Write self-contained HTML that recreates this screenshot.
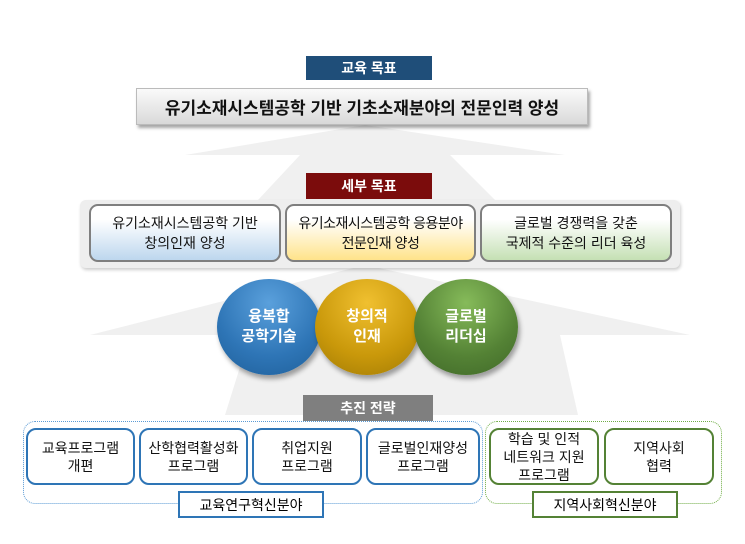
<!DOCTYPE html>
<html><head><meta charset="utf-8"><style>
body{margin:0;width:745px;height:544px;background:#fff;position:relative;overflow:hidden;font-family:"Liberation Sans","Noto Sans CJK KR",sans-serif;}
.a{position:absolute;box-sizing:border-box;display:flex;align-items:center;justify-content:center;text-align:center;}
.lab{color:#fff;font-weight:bold;font-size:14px;}
.g{border:2px solid #7f7f7f;border-radius:9px;font-size:14px;line-height:20px;color:#111;}
.bb{border:2px solid #2e75b6;border-radius:10px;background:#fff;font-size:14px;line-height:18px;color:#111;}
.gb{border:2px solid #548235;border-radius:10px;background:#fff;font-size:14px;line-height:18px;color:#111;}
.c{border-radius:50%;color:#fff;font-weight:bold;font-size:15px;line-height:20px;box-shadow:2px 4px 5px rgba(0,0,0,.35);}
</style></head><body>
<svg class="a" style="left:0;top:0;width:745px;height:544px" width="745" height="544">
<polygon fill="#f0f0f0" points="365,125 565,155 450,155 495,200 258,200 300,155 185,155"/>
<polygon fill="#f0f0f0" points="365,265 690,335 560,335 578,415 225,415 250,335 90,335"/>
</svg>
<div class="a lab" style="left:306px;top:56px;width:126px;height:24px;background:#1f4e79">교육 목표</div>
<div class="a" style="left:136px;top:88px;width:452px;height:37px;background:linear-gradient(#fafafa,#d9d9d9);border:1px solid #bbb;box-shadow:2px 3px 3px rgba(0,0,0,.35);font-weight:bold;font-size:17px;color:#111">유기소재시스템공학 기반 기초소재분야의 전문인력 양성</div>
<div class="a lab" style="left:306px;top:173px;width:126px;height:26px;background:#7b0c0c">세부 목표</div>
<div class="a" style="left:80px;top:200px;width:600px;height:68px;background:#eeeeee;border-radius:6px;box-shadow:1px 2px 3px rgba(0,0,0,.2)"></div>
<div class="a g" style="left:89px;top:204px;width:192px;height:58px;background:linear-gradient(#fff 25%,#bdd7ee)">유기소재시스템공학 기반<br>창의인재 양성</div>
<div class="a g" style="left:285px;top:204px;width:191px;height:58px;background:linear-gradient(#fff 25%,#ffe38a);letter-spacing:-0.5px">유기소재시스템공학 응용분야<br>전문인재 양성</div>
<div class="a g" style="left:480px;top:204px;width:192px;height:58px;background:linear-gradient(#fff 25%,#c5e0b4)">글로벌 경쟁력을 갖춘<br>국제적 수준의 리더 육성</div>
<div class="a c" style="left:217px;top:279px;width:104px;height:96px;background:radial-gradient(circle at 50% 25%,#5aa0dc,#2e75b6 60%,#1f5f99)">융복합<br>공학기술</div>
<div class="a c" style="left:315px;top:279px;width:104px;height:96px;background:radial-gradient(circle at 50% 25%,#f0c030,#c9980a 60%,#a07a05)">창의적<br>인재</div>
<div class="a c" style="left:414px;top:279px;width:104px;height:96px;background:radial-gradient(circle at 50% 25%,#86bb5a,#548235 60%,#3f6828)">글로벌<br>리더십</div>
<div class="a lab" style="left:303px;top:395px;width:130px;height:26px;background:#7f7f7f">추진 전략</div>
<div class="a" style="left:23px;top:421px;width:460px;height:83px;border:1.5px dotted #5b9bd5;border-radius:12px"></div>
<div class="a" style="left:485px;top:421px;width:237px;height:83px;border:1.5px dotted #70ad47;border-radius:12px"></div>
<div class="a bb" style="left:26px;top:428px;width:109px;height:57px">교육프로그램<br>개편</div>
<div class="a bb" style="left:139px;top:428px;width:109px;height:57px">산학협력활성화<br>프로그램</div>
<div class="a bb" style="left:252px;top:428px;width:110px;height:57px">취업지원<br>프로그램</div>
<div class="a bb" style="left:366px;top:428px;width:114px;height:57px">글로벌인재양성<br>프로그램</div>
<div class="a gb" style="left:489px;top:428px;width:110px;height:57px">학습 및 인적<br>네트워크 지원<br>프로그램</div>
<div class="a gb" style="left:604px;top:428px;width:110px;height:57px">지역사회<br>협력</div>
<div class="a" style="left:178px;top:491px;width:146px;height:27px;border:2px solid #2e75b6;background:#fff;font-size:14px">교육연구혁신분야</div>
<div class="a" style="left:532px;top:491px;width:146px;height:27px;border:2px solid #548235;background:#fff;font-size:14px">지역사회혁신분야</div>
</body></html>
